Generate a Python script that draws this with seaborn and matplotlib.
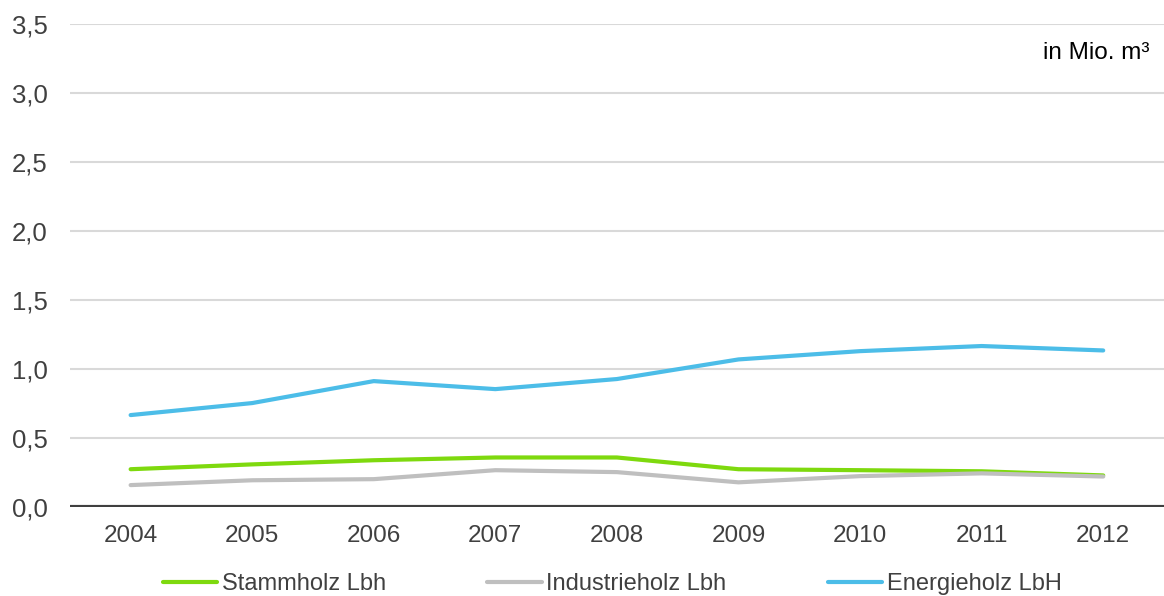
import numpy as np
import pandas as pd
import matplotlib.pyplot as plt
import seaborn as sns

years = [2004, 2005, 2006, 2007, 2008, 2009, 2010, 2011, 2012]
stammholz = [0.275, 0.31, 0.34, 0.36, 0.36, 0.275, 0.268, 0.26, 0.23]
industrieholz = [0.16, 0.195, 0.203, 0.268, 0.254, 0.18, 0.225, 0.245, 0.222]
energieholz = [0.667, 0.754, 0.913, 0.855, 0.928, 1.07, 1.13, 1.167, 1.135]
series_names = ["Stammholz Lbh", "Industrieholz Lbh", "Energieholz LbH"]
colors = ["#7ED90E", "#BFBFBF", "#4CBDE8"]

df = pd.DataFrame({
    "Jahr": years * 3,
    "Wert": stammholz + industrieholz + energieholz,
    "Sorte": [series_names[0]] * 9 + [series_names[1]] * 9 + [series_names[2]] * 9,
})

sns.set_theme(style="white")
plt.rcParams['font.family'] = ['Liberation Sans', 'DejaVu Sans']

fig = plt.figure(figsize=(11.64, 5.96), dpi=100)
ax = fig.add_axes([0.060, 0.149, 0.94, 0.811])

# gridlines
for v in np.arange(0.5, 3.51, 0.5):
    ax.axhline(v, color="#D9D9D9", lw=1.5, zorder=0)

sns.lineplot(data=df, x="Jahr", y="Wert", hue="Sorte", palette=colors,
             linewidth=3, ax=ax, legend=False)

ax.axhline(0, color="#404040", lw=3, zorder=3)

ax.set_xlim(2003.5, 2012.5)
ax.set_ylim(0, 3.5)
ax.set_xticks(years)
ax.set_xticklabels([str(y) for y in years])
ax.set_yticks(np.arange(0, 3.51, 0.5))
ax.set_yticklabels([f"{v:.1f}".replace(".", ",") for v in np.arange(0, 3.51, 0.5)])
ax.tick_params(axis="y", length=0, pad=16, labelsize=18.5, labelcolor="#404040")
ax.tick_params(axis="x", length=0, pad=13, labelsize=17.5, labelcolor="#404040")
ax.set_xlabel("")
ax.set_ylabel("")
for s in ax.spines.values():
    s.set_visible(False)

ax.text(0.987, 0.94, "in Mio. m³", transform=ax.transAxes, ha="right", va="center",
        fontsize=17.5, color="#000000")

handles = [plt.Line2D([], [], color=c, lw=3) for c in colors]
fig.legend(handles, series_names, loc="center", bbox_to_anchor=(0.526, 0.02), ncol=3,
           frameon=False, fontsize=17, handlelength=2.3, handletextpad=0.2,
           columnspacing=4.3, labelcolor="#404040")

fig.savefig("out.png", dpi=100)
